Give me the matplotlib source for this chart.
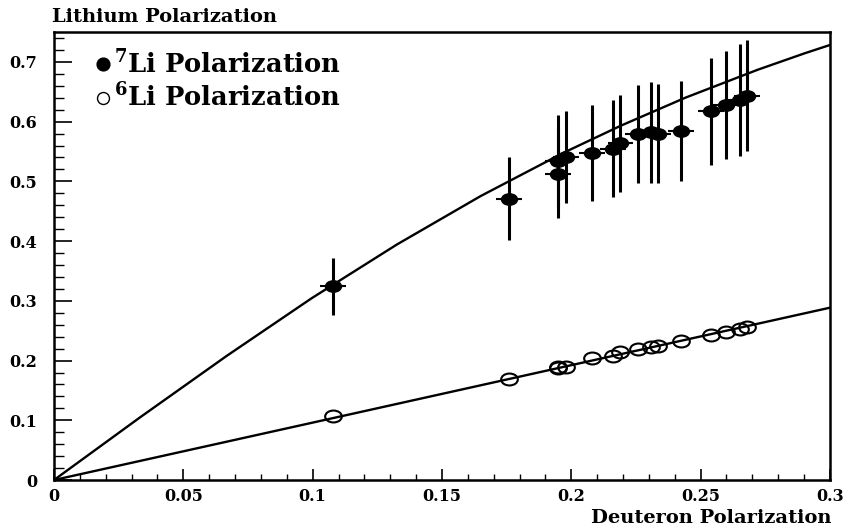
import matplotlib
matplotlib.use("Agg")
import matplotlib.pyplot as plt
from matplotlib.path import Path
from matplotlib.transforms import Affine2D
from matplotlib.lines import Line2D
from matplotlib.ticker import MultipleLocator

# ---- data ----
deuteron_pol = [0.108, 0.176, 0.195, 0.195, 0.198, 0.208, 0.216, 0.219,
                0.2256, 0.231, 0.2337, 0.2425, 0.254, 0.2597, 0.2653, 0.268]
li7_pol = [0.324, 0.471, 0.534, 0.513, 0.540, 0.547, 0.555, 0.564,
           0.580, 0.582, 0.580, 0.584, 0.617, 0.628, 0.636, 0.643]
li7_err = [0.047, 0.069, 0.077, 0.075, 0.077, 0.080, 0.082, 0.081,
           0.082, 0.084, 0.083, 0.084, 0.090, 0.091, 0.094, 0.093]
deuteron_err = 0.005
li6_pol = [0.107, 0.169, 0.188, 0.189, 0.190, 0.204, 0.208, 0.215,
           0.220, 0.223, 0.225, 0.233, 0.243, 0.248, 0.253, 0.256]

# theory curves (spin temperature)
curve7_x = [0.0, 0.0333, 0.0666, 0.0996, 0.1325, 0.1650, 0.1971, 0.2193,
            0.2443, 0.2721, 0.2903, 0.3000]
curve7_y = [0.0, 0.1050, 0.2073, 0.3043, 0.3941, 0.4755, 0.5481, 0.5935,
            0.6404, 0.6869, 0.7145, 0.7283]
curve6_x = [0.0, 0.1, 0.2, 0.3]
curve6_y = [0.0, 0.0961, 0.1923, 0.2885]

title_text = "Lithium Polarization"
xlabel_text = "Deuteron Polarization"
legend_labels = [r"$^{\mathbf{7}}$Li Polarization", r"$^{\mathbf{6}}$Li Polarization"]

# ---- style ----
plt.rcParams["font.family"] = ["DejaVu Serif"]
plt.rcParams["font.weight"] = "bold"
plt.rcParams["mathtext.fontset"] = "custom"
plt.rcParams["mathtext.rm"] = "DejaVu Serif:bold"
plt.rcParams["mathtext.bf"] = "DejaVu Serif:bold"

fig = plt.figure(figsize=(8.45, 5.32), dpi=100)
ax = fig.add_axes([0.0639, 0.0977, 0.9183, 0.8421])

# elliptical marker (the original is horizontally stretched)
ellipse = Path.unit_circle().transformed(Affine2D().scale(1.4, 1.0))

ax.plot(curve7_x, curve7_y, color="black", lw=1.7, zorder=2)
ax.plot(curve6_x, curve6_y, color="black", lw=1.7, zorder=2)

ax.errorbar(deuteron_pol, li7_pol, yerr=li7_err, fmt="none",
            ecolor="black", elinewidth=2.2, capsize=0, zorder=3)
ax.errorbar(deuteron_pol, li7_pol, xerr=deuteron_err, fmt="none",
            ecolor="black", elinewidth=1.5, capsize=0, zorder=3)
ax.plot(deuteron_pol, li7_pol, ls="none", marker=ellipse, markersize=11.5,
        color="black", zorder=4)
ax.plot(deuteron_pol, li6_pol, ls="none", marker=ellipse, markersize=12,
        markerfacecolor="none", markeredgecolor="black", markeredgewidth=1.5,
        zorder=4)

ax.set_xlim(0, 0.3)
ax.set_ylim(0, 0.75)
ax.xaxis.set_minor_locator(MultipleLocator(0.01))
ax.yaxis.set_minor_locator(MultipleLocator(0.02))
ax.set_xticks([0, 0.05, 0.1, 0.15, 0.2, 0.25, 0.3])
ax.set_xticklabels(["0", "0.05", "0.1", "0.15", "0.2", "0.25", "0.3"])
ax.set_yticks([0, 0.1, 0.2, 0.3, 0.4, 0.5, 0.6, 0.7])
ax.set_yticklabels(["0", "0.1", "0.2", "0.3", "0.4", "0.5", "0.6", "0.7"])

ax.tick_params(axis="x", which="major", direction="in", length=8, width=1.2,
               pad=6, labelsize=11.5, top=False)
ax.tick_params(axis="x", which="minor", direction="in", length=4.3, width=1.0,
               top=False)
ax.tick_params(axis="y", which="major", direction="in", length=13, width=1.2,
               pad=12, labelsize=11.5, right=False)
ax.tick_params(axis="y", which="minor", direction="in", length=7, width=1.0,
               right=False)
for lab in ax.get_xticklabels() + ax.get_yticklabels():
    lab.set_fontweight("bold")
for sp in ax.spines.values():
    sp.set_linewidth(1.8)

handles = [
    Line2D([], [], ls="none", marker="o", markersize=9.2, color="black"),
    Line2D([], [], ls="none", marker="o", markersize=8.6, markerfacecolor="none",
           markeredgecolor="black", markeredgewidth=1.0),
]
ax.legend(handles, legend_labels, loc="upper left", bbox_to_anchor=(0.0528, 0.962),
          frameon=False, prop={"family": "DejaVu Serif", "weight": "bold", "size": 18.5},
          handlelength=0.6, handletextpad=0.15, labelspacing=0.16,
          borderaxespad=0.0, borderpad=0.0)

fig.text(52 / 845, 1 - 8 / 532, title_text, ha="left", va="top",
         fontsize=14, fontweight="bold")
fig.text(832 / 845, 1 - 523 / 532, xlabel_text, ha="right", va="baseline",
         fontsize=14, fontweight="bold")

fig.savefig("out.png", dpi=100)
